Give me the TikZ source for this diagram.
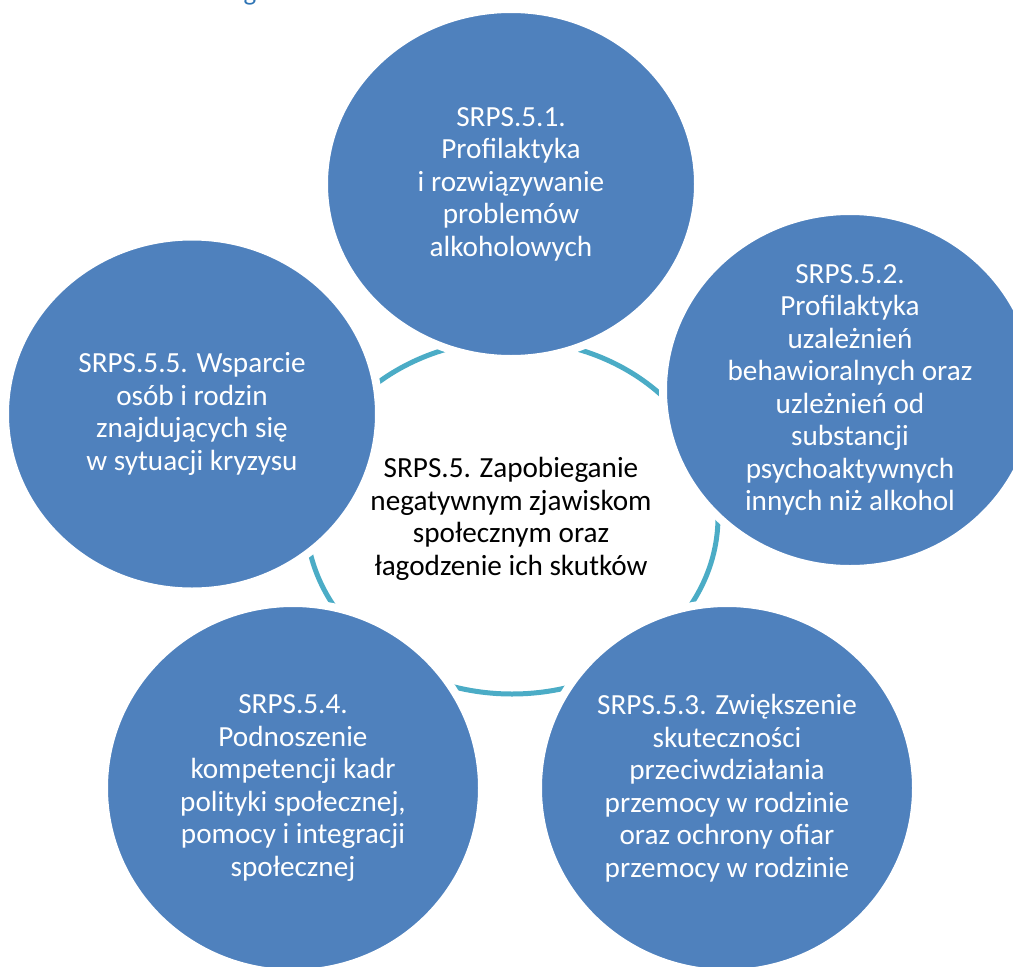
\documentclass[tikz,border=0pt]{standalone}
\usepackage{fontspec}
\setmainfont{Carlito}
\usetikzlibrary{shapes.geometric}
\definecolor{bubbleblue}{RGB}{79,129,189}
\definecolor{ringcyan}{RGB}{75,172,198}
\definecolor{headblue}{RGB}{46,116,181}
\tikzset{
  bubble/.style={ellipse, fill=bubbleblue, draw=white, line width=8pt, inner sep=0pt},
  bubbletext/.style={align=center, text=white, inner sep=0pt, font=\fontsize{29.2}{32.5}\selectfont},
  centertext/.style={align=center, text=black, inner sep=0pt, font=\fontsize{29.2}{32.5}\selectfont},
  ring/.style={draw=ringcyan, line width=5pt}
}
\begin{document}
\begin{tikzpicture}[x=1pt,y=-1pt]
\useasboundingbox (0,0) rectangle (1013,967);
% cut-off heading fragment
\node[anchor=base, text=headblue, inner sep=0pt, font=\fontsize{27}{30}\selectfont] (head) at (250,0) {g};
% ring
\coordinate (ringc) at (512,517);
\draw[ring] (ringc) ellipse [x radius=206, y radius=177];
% circles
\node[bubble, minimum width=374pt, minimum height=350pt] (c1) at (511,184) {};
\node[bubble, minimum width=374pt, minimum height=358pt] (c2) at (850,390) {};
\node[bubble, minimum width=378pt, minimum height=370pt] (c3) at (727,788) {};
\node[bubble, minimum width=378pt, minimum height=370pt] (c4) at (293,788) {};
\node[bubble, minimum width=374pt, minimum height=355pt] (c5) at (192,414) {};
% texts
\node[bubbletext] (t1) at (c1) {SRPS.5.1.\\Profilaktyka\\i rozwiązywanie\\problemów\\alkoholowych};
\node[bubbletext] (t2) at (c2) {SRPS.5.2.\\Profilaktyka\\uzależnień\\behawioralnych oraz\\uzleżnień od\\substancji\\psychoaktywnych\\innych niż alkohol};
\node[bubbletext] (t3) at (c3) {SRPS.5.3. Zwiększenie\\skuteczności\\przeciwdziałania\\przemocy w rodzinie\\oraz ochrony ofiar\\przemocy w rodzinie};
\node[bubbletext] (t4) at (c4) {SRPS.5.4.\\Podnoszenie\\kompetencji kadr\\polityki społecznej,\\pomocy i integracji\\społecznej};
\node[bubbletext] (t5) at (c5) {SRPS.5.5. Wsparcie\\osób i rodzin\\znajdujących się\\w sytuacji kryzysu};
\node[centertext] (center) at (511,519) {SRPS.5. Zapobieganie\\negatywnym zjawiskom\\społecznym oraz\\łagodzenie ich skutków};
\end{tikzpicture}
\end{document}
